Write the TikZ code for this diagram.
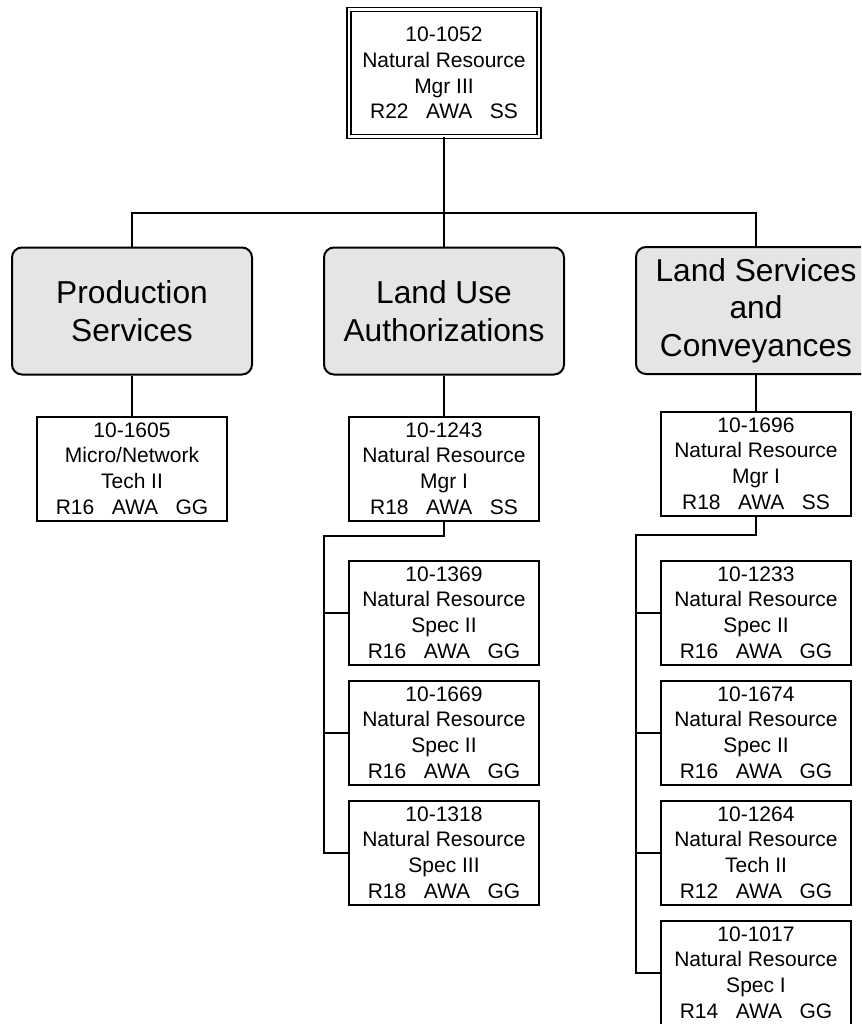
\documentclass[tikz,border=0pt]{standalone}
\usepackage{fontspec}
\setmainfont{Liberation Sans}
\usetikzlibrary{calc}

\newcommand{\jobtext}[6] % number, title, level, range, location, unit
{#1\\#2\\#3\\#4\ \ \ #5\ \ \ #6}

\tikzset{
	posbox/.style={draw, line width=2pt, fill=white, align=center, inner sep=0pt,
		minimum width=190pt, minimum height=104pt, font=\fontsize{21}{25.7}\selectfont},
	headbox/.style={posbox, double, double distance=2.4pt, line width=1.6pt,
		minimum width=189.6pt, minimum height=127.2pt},
	unitbox/.style={draw, line width=2pt, fill=black!10, rounded corners=10pt, align=center,
		inner sep=0pt, minimum width=240pt, minimum height=127pt, font=\fontsize{31.7}{37.5}\selectfont},
	link/.style={line width=2pt}
}

\begin{document}
\begin{tikzpicture}[x=1pt, y=-1pt]
	% page 861 x 1024, y runs down
	\useasboundingbox (0, 0) rectangle (861, 1024);
	\clip (0, 0) rectangle (861, 1024);
	
	% director
	\node[headbox] (p1052) at (444, 73) {\jobtext{10-1052}{Natural Resource}{Mgr III}{R22}{AWA}{SS}};
	
	% sections
	\node[unitbox] (prod) at (132, 311) {Production\\Services};
	\node[unitbox] (lua) at (444, 311) {Land Use\\Authorizations};
	\node[unitbox] (lsc) at (756, 310.5) {Land Services\\and\\Conveyances};
	
	% production services
	\node[posbox] (p1605) at (132, 468.5) {\jobtext{10-1605}{Micro/Network}{Tech II}{R16}{AWA}{GG}};
	
	% land use authorizations
	\node[posbox] (p1243) at (444, 468.5) {\jobtext{10-1243}{Natural Resource}{Mgr I}{R18}{AWA}{SS}};
	\node[posbox] (p1369) at (444, 612.5) {\jobtext{10-1369}{Natural Resource}{Spec II}{R16}{AWA}{GG}};
	\node[posbox] (p1669) at (444, 732.5) {\jobtext{10-1669}{Natural Resource}{Spec II}{R16}{AWA}{GG}};
	\node[posbox] (p1318) at (444, 852.5) {\jobtext{10-1318}{Natural Resource}{Spec III}{R18}{AWA}{GG}};
	
	% land services and conveyances
	\node[posbox] (p1696) at (756, 463.5) {\jobtext{10-1696}{Natural Resource}{Mgr I}{R18}{AWA}{SS}};
	\node[posbox] (p1233) at (756, 612.5) {\jobtext{10-1233}{Natural Resource}{Spec II}{R16}{AWA}{GG}};
	\node[posbox] (p1674) at (756, 732.5) {\jobtext{10-1674}{Natural Resource}{Spec II}{R16}{AWA}{GG}};
	\node[posbox] (p1264) at (756, 852.5) {\jobtext{10-1264}{Natural Resource}{Tech II}{R12}{AWA}{GG}};
	\node[posbox] (p1017) at (756, 972.5) {\jobtext{10-1017}{Natural Resource}{Spec I}{R14}{AWA}{GG}};
	
	% top bar
	\coordinate (split) at (444, 213);
	\draw[link] (p1052.south) -- (split);
	\draw[link] (prod.north) |- (split) -| (lsc.north);
	\draw[link] (split) -- (lua.north);
	
	\draw[link] (prod.south) -- (p1605.north);
	\draw[link] (lua.south) -- (p1243.north);
	\draw[link] (lsc.south) -- (p1696.north);
	
	% staff lines
	\coordinate (luaspine) at (324, 536);
	\draw[link] (p1243.south) |- (luaspine) |- (p1318.west);
	\foreach \p in {p1369, p1669}
		\draw[link] (\p.west) -- (\p.west -| luaspine);
	
	\coordinate (lscspine) at (636, 535);
	\draw[link] (p1696.south) |- (lscspine) |- (p1017.west);
	\foreach \p in {p1233, p1674, p1264}
		\draw[link] (\p.west) -- (\p.west -| lscspine);
	
\end{tikzpicture}
\end{document}
